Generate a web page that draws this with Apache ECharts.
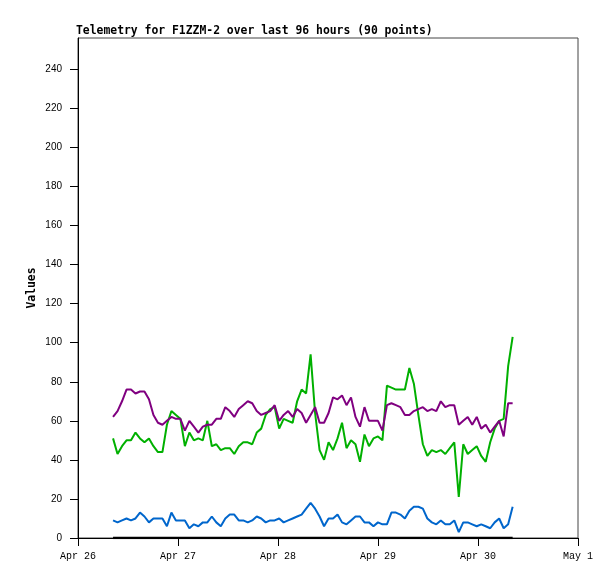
<!DOCTYPE html>
<html>
<head>
<meta charset="utf-8">
<script src="https://cdn.jsdelivr.net/npm/echarts@6/dist/echarts.min.js"></script>
<style>
html,body{margin:0;padding:0;background:#fff;}
#chart{width:615px;height:579px;}
</style>
</head>
<body>
<div id="chart"></div>
<script>
// Sampling grid (hours since Apr 26 00:00)
const firstHour = 8.41;
const stepHours = 1.0776;

const xTickLabels = ['Apr 26', 'Apr 27', 'Apr 28', 'Apr 29', 'Apr 30', 'May 1'];
const yTicks = [0, 20, 40, 60, 80, 100, 120, 140, 160, 180, 200, 220, 240];

const greenValues = [51,43,47,50,50,54,51,49,51,47,
  44,44,58,65,63,61,47,54,50,51,
  50,60,47,48,45,46,46,43,47,49,
  49,48,54,56,63,66,67,56,61,60,
  59,70,76,74,94,64,45,40,49,45,
  51,59,46,50,48,39,53,47,51,52,
  50,78,77,76,76,76,87,79,63,48,
  42,45,44,45,43,46,49,21,48,43,
  45,47,42,39,49,56,60,61,88,103];

const purpleValues = [62,65,70,76,76,74,75,75,71,63,
  59,58,60,62,61,61,55,60,57,54,
  57,58,58,61,61,67,65,62,66,68,
  70,69,65,63,64,65,68,60,63,65,
  62,66,64,59,63,67,59,59,64,72,
  71,73,68,72,62,57,67,60,60,60,
  55,68,69,68,67,63,63,65,66,67,
  65,66,65,70,67,68,68,58,60,62,
  58,62,56,58,54,57,60,52,69,69];

const blueValues = [9,8,9,10,9,10,13,11,8,10,
  10,10,6,13,9,9,9,5,7,6,
  8,8,11,8,6,10,12,12,9,9,
  8,9,11,10,8,9,9,10,8,9,
  10,11,12,15,18,15,11,6,10,10,
  12,8,7,9,11,11,8,8,6,8,
  7,7,13,13,12,10,14,16,16,15,
  10,8,7,9,7,7,9,3,8,8,
  7,6,7,6,5,8,10,5,7,16];

const blackValues = [0,0,0,0,0,0,0,0,0,0,
  0,0,0,0,0,0,0,0,0,0,
  0,0,0,0,0,0,0,0,0,0,
  0,0,0,0,0,0,0,0,0,0,
  0,0,0,0,0,0,0,0,0,0,
  0,0,0,0,0,0,0,0,0,0,
  0,0,0,0,0,0,0,0,0,0,
  0,0,0,0,0,0,0,0,0,0,
  0,0,0,0,0,0,0,0,0,0];

const sampleHours = blueValues.map((_, i) => firstHour + i * stepHours);
const pair = vals => vals.map((v, i) => [sampleHours[i], v]);

const chart = echarts.init(document.getElementById('chart'), null, {renderer: 'canvas'});
const monoBold = {fontFamily: 'DejaVu Sans Mono', fontWeight: 'bold', fontSize: 11.4, color: '#000'};

function lineSeries(name, vals, color, width) {
  return {
    name: name, type: 'line', data: pair(vals), showSymbol: false, symbol: 'none',
    animation: false, silent: true,
    lineStyle: {color: color, width: width}
  };
}

chart.setOption({
  animation: false,
  backgroundColor: '#fff',
  title: {
    text: 'Telemetry for F1ZZM-2 over last 96 hours (90 points)',
    left: 76, top: 26, padding: 0,
    textStyle: monoBold
  },
  grid: {left: 78, right: 37, top: 38, bottom: 41, show: true, borderColor: '#444', borderWidth: 1},
  xAxis: {
    type: 'value', min: 0, max: 120, interval: 24,
    axisLine: {show: true, lineStyle: {color: '#000', width: 1}},
    axisTick: {show: true, inside: false, length: 8, lineStyle: {color: '#000'}},
    splitLine: {show: false},
    axisLabel: {
      margin: 13, fontFamily: 'Liberation Mono', fontSize: 10, color: '#000',
      formatter: v => xTickLabels[Math.round(v / 24)] || ''
    }
  },
  yAxis: {
    type: 'value', min: 0, max: 256,
    name: 'Values', nameLocation: 'middle', nameGap: 40, nameRotate: 90,
    nameMoveOverlap: false,
    nameTextStyle: monoBold,
    axisLine: {show: true, lineStyle: {color: '#000', width: 1}},
    axisTick: {show: true, inside: false, length: 8, lineStyle: {color: '#000'}, customValues: yTicks},
    splitLine: {show: false},
    axisLabel: {margin: 16, fontFamily: 'Liberation Sans', fontSize: 10, color: '#000', customValues: yTicks}
  },
  series: [
    lineSeries('green', greenValues, '#00b000', 2),
    lineSeries('purple', purpleValues, '#800080', 2),
    lineSeries('blue', blueValues, '#0066cc', 2),
    lineSeries('black', blackValues, '#000000', 2.5)
  ]
});
</script>
</body>
</html>
